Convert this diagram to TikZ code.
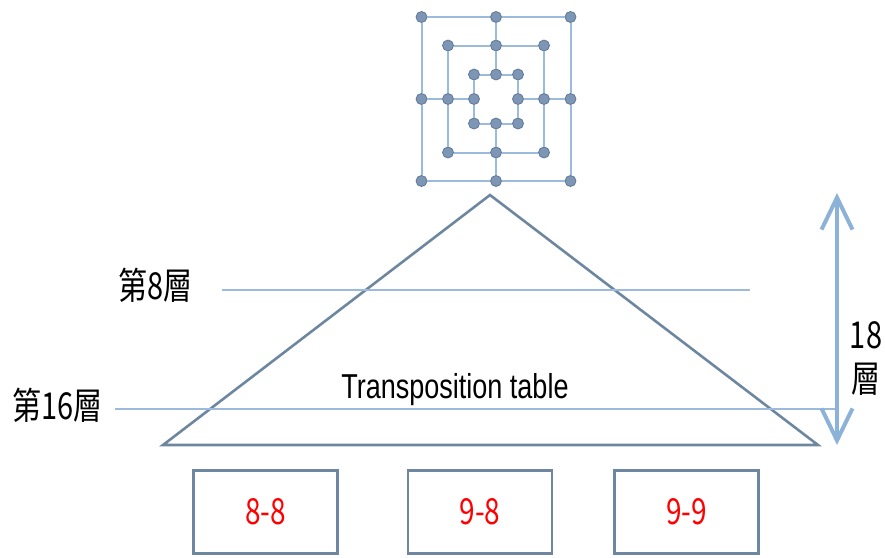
\documentclass[tikz,border=0pt]{standalone}
\usepackage{fontspec}
\setmainfont{Liberation Sans}
\newfontfamily\cjk{Noto Sans CJK TC}
\usepackage{graphicx}
\usepackage{tikz}
\usetikzlibrary{arrows.meta,positioning}
\definecolor{slate}{RGB}{110,135,160}
\definecolor{paleline}{RGB}{155,186,220}
\definecolor{dotfill}{RGB}{125,150,182}
\definecolor{dotedge}{RGB}{95,120,152}
\definecolor{arrowblue}{RGB}{140,178,216}
\newcommand{\talltext}[1]{\scalebox{1}[1.28]{#1}}
\tikzset{
    tri/.style={draw=slate,line width=2.6pt,line join=miter},
    levelline/.style={draw=paleline,line width=1.3pt},
    board/.style={draw=paleline,line width=2pt},
    dot/.style={circle,fill=dotfill,draw=dotedge,line width=0.8pt,minimum size=11pt},
    levellabel/.style={font=\cjk\fontsize{29}{31}\selectfont},
    cell/.style={draw=slate,line width=2.6pt,minimum width=144pt,minimum height=83pt,text=red,font=\cjk\fontsize{28}{30}\selectfont},
    span/.style={<->,>={Straight Barb[length=32pt,width=31pt]},line width=4pt,arrowblue},
}
\tikzstyle{every node}=[inner sep=0pt]

\begin{document}
\begin{tikzpicture}[x=1pt,y=-1pt]
        \useasboundingbox (0,0) rectangle (885,557);

        % board
        \foreach \sq/\hw/\hh in {o/74.5/82,m/48/53.5,i/22/24.5}{
            \foreach \p/\a/\b in {tl/-1/-1,t/0/-1,tr/1/-1,r/1/0,br/1/1,b/0/1,bl/-1/1,l/-1/0}
                \node[dot] (\sq-\p) at ({496+\a*\hw},{99+\b*\hh}) {};
            \draw[board] (\sq-tl) -- (\sq-t) -- (\sq-tr) -- (\sq-r) -- (\sq-br) -- (\sq-b) -- (\sq-bl) -- (\sq-l) -- (\sq-tl);
        }
        \foreach \p in {t,r,b,l}
            \draw[board] (o-\p) -- (m-\p) -- (i-\p);

        % tree
        \coordinate (apex) at (490,195);
        \coordinate (base west) at (163,445);
        \coordinate (base east) at (818,445);
        \draw[tri] (apex) -- (base west) -- (base east) -- cycle;
        \node[anchor=base,font=\fontsize{27}{29}\selectfont] (tt) at (455,398) {\talltext{Transposition table}};

        % levels
        \coordinate (l8 west) at (222,290);
        \coordinate (l8 east) at (750,290);
        \draw[levelline] (l8 west) -- (l8 east);
        \node[levellabel,left=29pt of l8 west,yshift=5pt] (lab8) {\talltext{第8層}};

        \coordinate (l16 west) at (115,409);
        \coordinate (l16 east) at (835,409);
        \draw[levelline] (l16 west) -- (l16 east);
        \node[levellabel,left=12pt of l16 west,yshift=4pt] (lab16) {\talltext{第16層}};

        % depth
        \coordinate (span top) at (837,193);
        \coordinate (span bottom) at (837,445);
        \draw[span] (span top) -- (span bottom);
        \node[levellabel] (n18) at (866,335) {\talltext{18}};
        \node[levellabel,below=14pt of n18] (ceng) {\talltext{層}};

        % tables
        \node[cell] (c88) at (265.5,512) {\talltext{8-8}};
        \node[cell,right=68pt of c88] (c98) {\talltext{9-8}};
        \node[cell,right=60pt of c98] (c99) {\talltext{9-9}};
\end{tikzpicture}
\end{document}
